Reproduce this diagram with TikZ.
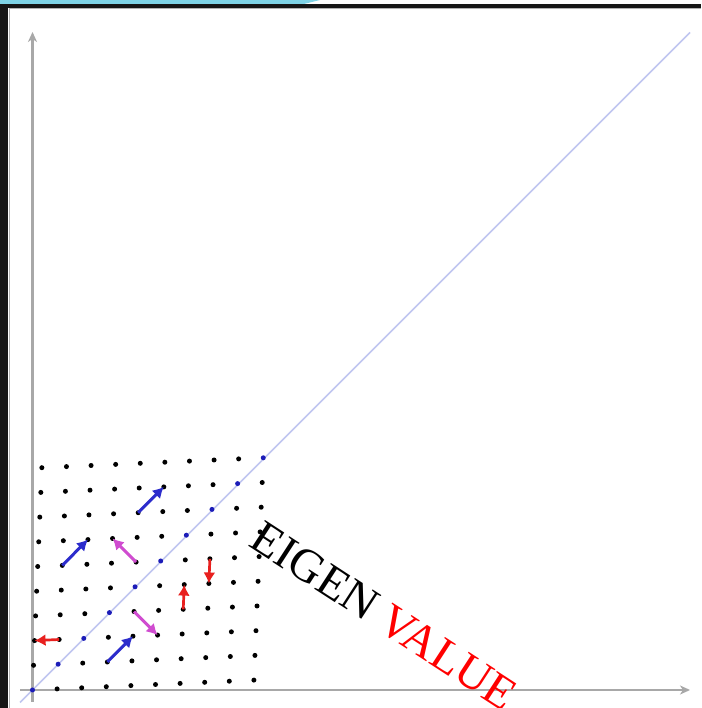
\documentclass[tikz,border=0pt]{standalone}
\usepackage{fontspec}
\setmainfont{Liberation Serif}
\usetikzlibrary{arrows.meta}
\definecolor{cyanband}{HTML}{7FD3E6}
\definecolor{frameblack}{HTML}{161616}
\definecolor{axisgray}{HTML}{A8A8A8}
\definecolor{diaglav}{HTML}{C0C6F0}
\definecolor{dotblue}{HTML}{1C1CB8}
\definecolor{arrblue}{HTML}{2C2CCC}
\definecolor{arrmag}{HTML}{D04CD0}
\definecolor{arrred}{HTML}{E8201E}
\begin{document}
\begin{tikzpicture}[x=1pt,y=1pt,
  axisline/.style={draw=axisgray, line width=2.5pt, -{Stealth[length=10pt,width=9pt,inset=3pt]}},
  diagline/.style={draw=diaglav, line width=1.5pt},
  griddot/.style={circle, fill=black, inner sep=0pt, minimum size=5pt},
  eigdot/.style={circle, fill=dotblue, inner sep=0pt, minimum size=5pt},
  vecarrow/.style={line width=3pt, -{Latex[length=11pt,width=12pt]}},
  bluearrow/.style={vecarrow, draw=arrblue},
  magarrow/.style={vecarrow, draw=arrmag},
  redarrow/.style={vecarrow, draw=arrred, line width=2.7pt}
]
\useasboundingbox (0,0) rectangle (701,708);
\fill[white] (0,0) rectangle (701,708);
% frame
\fill[cyanband] (0,708) -- (320,708) -- (302,703.5) -- (0,703.5) -- cycle;
\fill[frameblack] (0,700) rectangle (701,703.5);
\fill[frameblack] (0,0) rectangle (8,703.5);
\draw[gray!60, line width=0.8pt] (9,0) -- (9,699.2) -- (701,699.2);
% axes
\coordinate (O) at (32.5,18);
\coordinate (xs) at (20,18);
\coordinate (xe) at (690,18);
\coordinate (ys) at (32.5,6);
\coordinate (ye) at (32.5,676);
\coordinate (ds) at (20,5.5);
\coordinate (de) at (690,675.5);
\draw[axisline] (xs) -- (xe);
\draw[axisline] (ys) -- (ye);
\draw[diagline] (ds) -- (de);
% grid
\begin{scope}[shift={(32.5,18)}, x={(24.6pt,1.1pt)}, y={(1.04pt,24.7pt)}]
  \foreach \i in {0,...,9}{
    \foreach \j in {0,...,9}{
      \ifnum\i=\j
        \node[eigdot] (d-\i-\j) at (\i,\j) {};
      \else
        \node[griddot] (d-\i-\j) at (\i,\j) {};
      \fi
    }
  }
  \draw[bluearrow] (d-4-7.center) -- (d-5-8.center);
  \draw[bluearrow] (d-1-5.center) -- (d-2-6.center);
  \draw[bluearrow] (d-3-1.center) -- (d-4-2.center);
  \draw[magarrow] (d-4-5.center) -- (d-3-6.center);
  \draw[magarrow] (d-4-3.center) -- (d-5-2.center);
  \draw[redarrow] (d-6-3.center) -- (d-6-4.center);
  \draw[redarrow] (d-7-5.center) -- (d-7-4.center);
  \draw[redarrow] (d-1-2.center) -- (d-0-2.center);
\end{scope}
% label
\node[rotate=-33, inner sep=0pt, font=\fontsize{47}{47}\selectfont] (lbl) at (384,92) {EIGEN \textcolor{red}{VALUE}};
\end{tikzpicture}
\end{document}
